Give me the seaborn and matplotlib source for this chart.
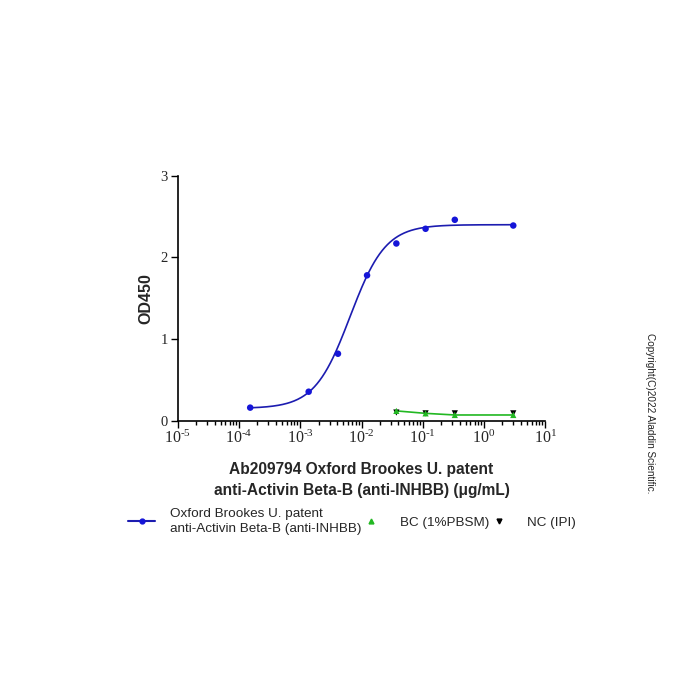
import numpy as np
import pandas as pd
import matplotlib
matplotlib.use("Agg")
import matplotlib.pyplot as plt
import seaborn as sns
from matplotlib.lines import Line2D
from matplotlib.ticker import LogLocator, FuncFormatter

# measured points
ab_conc = [0.000152, 0.00137, 0.00412, 0.0123, 0.037, 0.111, 0.333, 3.0]
ab_od = [0.16, 0.355, 0.82, 1.78, 2.17, 2.35, 2.46, 2.39]

ctrl_conc = [0.037, 0.111, 0.333, 3.0]
bc_od = [0.12, 0.09, 0.07, 0.07]
nc_od = [0.10, 0.09, 0.09, 0.09]

# 4PL fit parameters
fit_bottom = 0.15
fit_top = 2.40
fit_ec50 = 0.0065
fit_hill = 1.5

blue_line = "#1c1cb0"
blue_dot = "#1515d8"
green = "#22b822"


def decade_label(val, pos):
    exp = int(round(np.log10(val)))
    return r"$10^{\text{%d}}$" % exp


def main():
    sns.set_style("ticks")
    plt.rcParams["font.family"] = ["Liberation Sans", "DejaVu Sans"]
    plt.rcParams["mathtext.fontset"] = "custom"
    plt.rcParams["mathtext.rm"] = "Liberation Serif"
    plt.rcParams["mathtext.it"] = "Liberation Serif"
    plt.rcParams["axes.unicode_minus"] = False

    fig = plt.figure(figsize=(7, 7), dpi=100)
    ax = fig.add_axes([0.254, 0.399, 0.525, 0.35])

    xs = np.logspace(np.log10(ab_conc[0]), np.log10(ab_conc[-1]), 300)
    curve = fit_bottom + (fit_top - fit_bottom) / (1 + (fit_ec50 / xs) ** fit_hill)
    fit_df = pd.DataFrame({"conc": xs, "od": curve})
    sns.lineplot(data=fit_df, x="conc", y="od", color=blue_line, lw=1.2, ax=ax)

    ab_df = pd.DataFrame({"conc": ab_conc, "od": ab_od})
    sns.scatterplot(data=ab_df, x="conc", y="od", color=blue_dot, s=22,
                    edgecolor="none", ax=ax, zorder=3)

    ctrl_df = pd.DataFrame({"conc": ctrl_conc, "bc": bc_od, "nc": nc_od})
    sns.lineplot(data=ctrl_df, x="conc", y="bc", color=green, lw=1.2, ax=ax)
    sns.scatterplot(data=ctrl_df, x="conc", y="nc", color="black", marker="v",
                    s=20, edgecolor="none", ax=ax, zorder=3)
    sns.scatterplot(data=ctrl_df, x="conc", y="bc", color=green, marker="^",
                    s=20, edgecolor="none", ax=ax, zorder=4)

    ax.set_xscale("log")
    ax.set_xlim(1e-5, 10)
    ax.set_ylim(0, 3)
    ax.set_yticks([0, 1, 2, 3])
    ax.xaxis.set_major_locator(LogLocator(base=10, numticks=10))
    ax.xaxis.set_minor_locator(LogLocator(base=10, subs=np.arange(2, 10), numticks=100))
    ax.xaxis.set_major_formatter(FuncFormatter(decade_label))
    ax.tick_params(axis="x", which="major", length=5, width=1, labelsize=11.5,
                   direction="out", color="black", pad=1)
    ax.tick_params(axis="y", which="major", length=5, width=1, labelsize=10.5,
                   direction="out", color="black", pad=2)
    ax.tick_params(axis="x", which="minor", length=3, width=1, color="black")
    for lab in ax.get_yticklabels():
        lab.set_family("Liberation Serif")
    for side in ["top", "right"]:
        ax.spines[side].set_visible(False)
    for side in ["left", "bottom"]:
        ax.spines[side].set_linewidth(1.2)
        ax.spines[side].set_color("black")

    ax.set_ylabel("OD450", fontsize=11.5, fontweight="bold", labelpad=5)
    ax.set_xlabel("Ab209794 Oxford Brookes U. patent\nanti-Activin Beta-B (anti-INHBB) (\u03bcg/mL)",
                  fontsize=11.2, fontweight="bold", labelpad=11, linespacing=1.5)

    handles = [
        Line2D([], [], color=blue_line, lw=1.5, marker="o", markersize=3.5,
               markerfacecolor=blue_dot, markeredgecolor=blue_dot),
        Line2D([], [], color=green, lw=0, marker="^", markersize=3.5),
        Line2D([], [], color="black", lw=0, marker="v", markersize=3.5),
    ]
    labels = [
        "Oxford Brookes U. patent\nanti-Activin Beta-B (anti-INHBB)",
        "BC (1%PBSM)",
        "NC (IPI)",
    ]
    leg = fig.legend(handles, labels, loc="center", bbox_to_anchor=(0.503, 0.255), ncol=3,
                     frameon=False, fontsize=9.7, handlelength=2.0, columnspacing=-0.26,
                     handletextpad=1.1)
    for t in leg.get_texts():
        t.set_linespacing(1.35)

    fig.text(0.929, 0.41, "Copyright(C)2022 Aladdin Scientific.", rotation=-90,
             fontsize=7.2, ha="center", va="center", color="#222222")

    fig.savefig("out.png", dpi=100)
    plt.close(fig)


if __name__ == "__main__":
    main()
